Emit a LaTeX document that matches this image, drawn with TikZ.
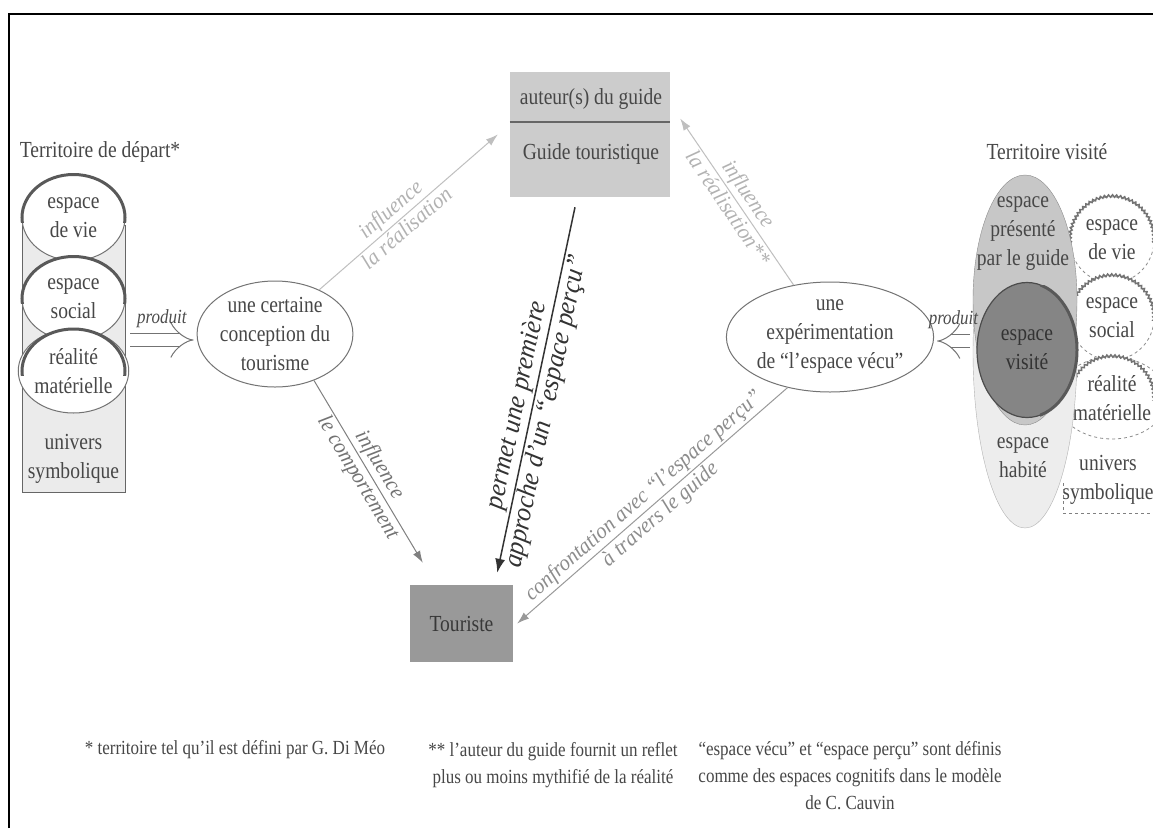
\documentclass[tikz,border=0pt]{standalone}
\usepackage{fontspec}
\setmainfont{Liberation Serif}[FakeStretch=0.85]
\newfontfamily\penche{Liberation Serif}[FakeStretch=0.95]
\usetikzlibrary{arrows.meta,decorations.pathmorphing,shapes.geometric}
\tikzset{>=Latex}
\tikzset{bulle/.style={ellipse, draw=black!55, fill=white, inner sep=0pt, line width=1pt}}
\tikzset{texte/.style={text=black!72, align=center, font=\fontsize{23}{29}\selectfont}}
\tikzset{lbl/.style={sloped, inner sep=2pt, font=\penche\itshape\fontsize{22}{24}\selectfont}}
\tikzset{fleche/.style={-{Latex[length=12pt,width=8pt]}, line width=1pt}}
\tikzset{prod/.style={double=white, double distance=12pt, line width=1pt, draw=black!55, -{Implies}}}
\tikzset{vague/.style={decorate, decoration={snake, segment length=4pt, amplitude=1.2pt}, line width=1.5pt, draw=black!55}}
\tikzset{arcsombre/.style={line width=3pt, draw=black!65}}

\begin{document}
\begin{tikzpicture}[x=1pt,y=-1pt]
  \useasboundingbox (0,0) rectangle (1153,828);
  \fill[white] (0,0) rectangle (1153,828);
  \draw[line width=2.5pt] (9,828) -- (9,14) -- (1153,14);

  % territoire de depart
  \node[texte] (titreD) at (100,152) {Territoire de départ*};
  \node[draw=black!60, fill=black!8, minimum width=103pt, minimum height=267pt, inner sep=0pt] (colD) at (73.5,358.5) {};
  \node[bulle, texte, minimum width=103pt, minimum height=86pt] (vieD) at (73.5,217.5) {espace\\de vie};
  \begin{scope}
    \clip (15,170) rectangle (135,222);
    \draw[arcsombre] (vieD.center) ellipse[x radius=51.5pt, y radius=43pt];
  \end{scope}
  \node[bulle, texte, minimum width=103pt, minimum height=84pt] (socD) at (73.5,298.5) {espace\\social};
  \begin{scope}
    \clip (15,250) rectangle (135,303);
    \draw[arcsombre] (socD.center) ellipse[x radius=51.5pt, y radius=42pt];
  \end{scope}
  \node[bulle, texte, minimum width=103pt, minimum height=84pt] (matD) at (73.5,371) {réalité\\matérielle};
  \begin{scope}
    \clip (15,322) rectangle (135,375);
    \draw[arcsombre] (matD.center) ellipse[x radius=51.5pt, y radius=42pt];
  \end{scope}
  \node[texte] (symD) at (73.5,459) {univers\\symbolique};

  % conception
  \node[bulle, texte, minimum width=155pt, minimum height=106pt] (concept) at (275,334) {une certaine\\conception du\\tourisme};
  \draw[prod] ([xshift=5pt,yshift=18.5pt]colD.east) -- ([xshift=-3pt,yshift=-6pt]concept.west)
    node[midway, above=8pt, text=black!70, font=\itshape\fontsize{20}{22}\selectfont] (prodD) {produit};

  % guide et touriste
  \node[fill=black!20, minimum width=160pt, minimum height=125pt, inner sep=0pt] (guide) at (590,134.5) {};
  \node[texte] (auteur) at (591,99) {auteur(s) du guide};
  \node[texte] (guideT) at (591,154) {Guide touristique};
  \draw[line width=2pt, black!60] (guide.west |- 0,122) -- (guide.east |- 0,122);
  \node[fill=black!40, texte, text=black!78, minimum width=103pt, minimum height=77pt] (tour) at (461.5,623.5) {Touriste};

  % experimentation
  \node[bulle, texte, minimum width=155pt, minimum height=110pt] (expe) at (830,337) {une\\expérimentation\\de “l’espace vécu”};

  % territoire visite
  \node[texte] (titreV) at (1047,152) {Territoire visité};
  \node[bulle, dashed, draw=black!45, line width=0.8pt, texte, minimum width=84pt, minimum height=86pt] (vieV) at (1112,240) {espace\\de vie};
  \begin{scope}
    \clip (1060,190) rectangle (1160,242);
    \draw[vague] (vieV.center) ellipse[x radius=42pt, y radius=43pt];
  \end{scope}
  \node[bulle, dashed, draw=black!45, line width=0.8pt, texte, minimum width=84pt, minimum height=84pt] (socV) at (1112,318) {espace\\social};
  \begin{scope}
    \clip (1060,270) rectangle (1160,320);
    \draw[vague] (socV.center) ellipse[x radius=42pt, y radius=42pt];
  \end{scope}
  \node[bulle, dashed, draw=black!45, line width=0.8pt, texte, minimum width=84pt, minimum height=82pt] (matV) at (1112,398) {réalité\\matérielle};
  \begin{scope}
    \clip (1060,350) rectangle (1160,400);
    \draw[vague] (matV.center) ellipse[x radius=42pt, y radius=41pt];
  \end{scope}
  \node[texte] (symV) at (1108,480) {univers\\symbolique};
  \draw[dashed, draw=black!50, line width=0.8pt] (1063,483) -- (1063,513) -- (1160,513);

  \node[ellipse, fill=black!7, draw=black!30, minimum width=104pt, minimum height=352pt, inner sep=0pt] (habite) at (1025,352) {};
  \node[ellipse, fill=black!22, draw=black!45, minimum width=104pt, minimum height=250pt, inner sep=0pt] (presente) at (1025,300) {};
  \node[texte] (presT) at (1023,234) {espace\\présenté\\par le guide};
  \node[ellipse, fill=black!48, draw=black!70, line width=1.2pt, minimum width=100pt, minimum height=135pt, inner sep=0pt, texte, text=black!80] (visite) at (1027,350) {espace\\visité};
  \begin{scope}
    \clip (1040,285) rectangle (1085,420);
    \draw[arcsombre] (visite.center) ellipse[x radius=50pt, y radius=67.5pt];
  \end{scope}
  \node[texte] (habT) at (1023,458) {espace\\habité};

  \draw[prod] ([xshift=-3pt,yshift=11pt]habite.west) -- ([xshift=3pt,yshift=-4pt]expe.east)
    node[midway, above=8pt, text=black!70, font=\itshape\fontsize{20}{22}\selectfont] (prodV) {produit};

  % fleches
  \draw[fleche, black!25] (concept.45) -- ([xshift=-12pt]guide.west)
    node[lbl, pos=0.45, above, text=black!30] (inflA) {influence}
    node[lbl, pos=0.45, below, text=black!30] (realA) {la réalisation};
  \draw[fleche, black!50] (concept.-50) -- ([xshift=13pt,yshift=22pt]tour.north west)
    node[lbl, midway, above, text=black!55] (inflB) {influence}
    node[lbl, midway, below, text=black!55] (compB) {le comportement};
  \draw[-{Latex[length=14pt,width=10pt]}, line width=1.5pt, black!80] ([xshift=-15pt,yshift=-10pt]guide.south) -- ([xshift=-16pt,yshift=12pt]tour.north east)
    node[lbl, pos=0.55, above, font=\penche\itshape\fontsize{27}{30}\selectfont, text=black!80] (permC) {permet une première}
    node[lbl, pos=0.55, below, font=\penche\itshape\fontsize{27}{30}\selectfont, text=black!80] (apprC) {approche d’un “espace perçu”};
  \draw[fleche, black!40] (expe.-130) -- ([xshift=4pt]tour.east)
    node[lbl, midway, above, text=black!45] (confD) {confrontation avec “l’espace perçu”}
    node[lbl, midway, below, text=black!45] (travD) {à travers le guide};
  \draw[fleche, black!25] (expe.125) -- ([xshift=10pt,yshift=16pt]guide.east)
    node[lbl, midway, above, text=black!30] (inflE) {influence}
    node[lbl, midway, below, text=black!30] (realE) {la réalisation**};

  % notes
  \node[texte, font=\fontsize{20}{27}\selectfont] (noteA) at (235,750) {* territoire tel qu’il est défini par G. Di Méo};
  \node[texte, font=\fontsize{20}{27}\selectfont] (noteB) at (553,765) {** l’auteur du guide fournit un reflet\\plus ou moins mythifié de la réalité};
  \node[texte, font=\fontsize{20}{27}\selectfont] (noteC) at (850,776) {“espace vécu” et “espace perçu” sont définis\\comme des espaces cognitifs dans le modèle\\de C. Cauvin};
\end{tikzpicture}
\end{document}
